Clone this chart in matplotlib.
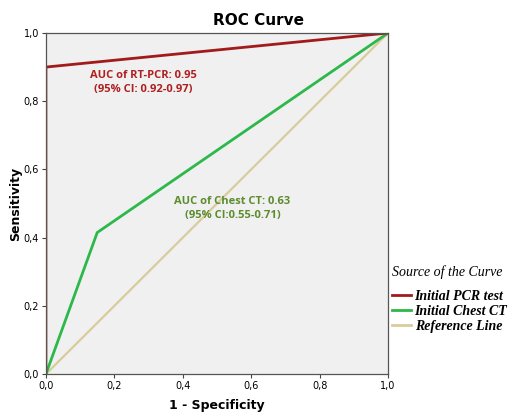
import numpy as np
import matplotlib.pyplot as plt
from matplotlib.lines import Line2D

# ROC points
pcr_fpr = [0.0, 0.0, 1.0]
pcr_tpr = [0.0, 0.90, 1.0]
ct_fpr = [0.0, 0.15, 1.0]
ct_tpr = [0.0, 0.415, 1.0]
ref_fpr = [0.0, 1.0]
ref_tpr = [0.0, 1.0]
ticks = [0.0, 0.2, 0.4, 0.6, 0.8, 1.0]
tick_labels = ["0,0", "0,2", "0,4", "0,6", "0,8", "1,0"]
legend_labels = ["Initial PCR test", "Initial Chest CT", "Reference Line"]

red = "#a11b1b"
green = "#2db84b"
tan = "#d9cc9c"

fig = plt.figure(figsize=(5.1, 4.12), dpi=100)
ax = fig.add_axes([0.090, 0.092, 0.671, 0.828])
ax.set_facecolor("#f0f0f0")

ax.plot(ref_fpr, ref_tpr, color=tan, lw=1.6)
ax.plot(ct_fpr, ct_tpr, color=green, lw=2.0)
ax.plot(pcr_fpr, pcr_tpr, color=red, lw=2.0)

ax.set_xlim(0, 1)
ax.set_ylim(0, 1)
ax.set_xticks(ticks)
ax.set_xticklabels(tick_labels)
ax.set_yticks(ticks)
ax.set_yticklabels(tick_labels)
ax.tick_params(labelsize=7, length=3, width=0.8, color="#444444", pad=2)
for s in ax.spines.values():
    s.set_color("#555555")
    s.set_linewidth(0.9)

ax.set_xlabel("1 - Specificity", fontsize=9, fontweight="bold", labelpad=6)
ax.set_ylabel("Sensitivity", fontsize=9, fontweight="bold", labelpad=1)
fig.text(0.506, 0.95, "ROC Curve", ha="center", va="center",
         fontsize=11, fontweight="bold")

ax.text(0.285, 0.855, "AUC of RT-PCR: 0.95\n(95% CI: 0.92-0.97)",
        ha="center", va="center", color="#b01f1f", fontsize=8,
        fontweight="bold", family="Open Sans", linespacing=1.4)
ax.text(0.545, 0.485, "AUC of Chest CT: 0.63\n(95% CI:0.55-0.71)",
        ha="center", va="center", color="#5c8c2c", fontsize=8,
        fontweight="bold", family="Open Sans", linespacing=1.4)

handles = [Line2D([0], [0], color=c, lw=2) for c in (red, green, tan)]
leg = fig.legend(handles, legend_labels, loc="upper left",
                 bbox_to_anchor=(0.768, 0.357), frameon=False,
                 title="Source of the Curve", handlelength=1.4,
                 handletextpad=0.25, labelspacing=0.15, borderaxespad=0,
                 borderpad=0,
                 prop={"family": "Liberation Serif", "style": "italic",
                       "weight": "bold", "size": 10})
leg.get_title().set_fontproperties({"family": "Liberation Serif",
                                    "style": "italic", "size": 10})
leg._legend_box.align = "left"
leg._legend_box.sep = 8

fig.savefig("out.png", dpi=100)
